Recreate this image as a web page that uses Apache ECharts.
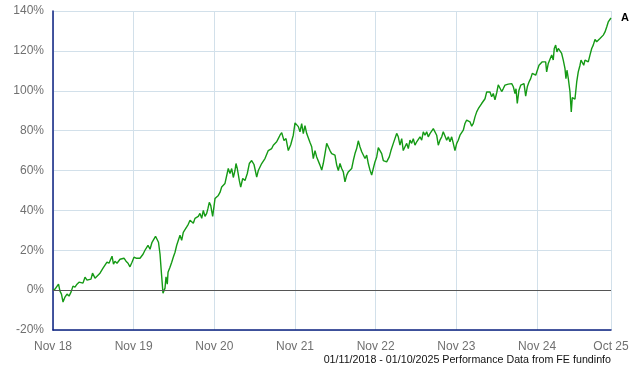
<!DOCTYPE html>
<html>
<head>
<meta charset="utf-8">
<script src="https://cdn.jsdelivr.net/npm/echarts@6/dist/echarts.min.js"></script>
<style>
html,body{margin:0;padding:0;background:#fff;}
#chart{width:640px;height:370px;}
</style>
</head>
<body>
<div id="chart"></div>
<script>
// Months since 1 Nov 2018
var months = [
0,0.30,0.59,0.82,1.04,1.26,1.49,1.78,2.08,2.38,
2.68,2.97,3.27,3.57,3.87,4.16,4.46,4.76,5.06,5.35,
5.65,5.88,6.25,6.54,6.99,7.44,7.73,8.03,8.33,8.55,
8.78,9.00,9.22,9.52,9.97,10.26,10.56,10.86,11.16,11.45,
11.75,12.05,12.35,12.64,12.94,13.39,13.68,14.13,14.43,14.73,
15.02,15.25,15.47,15.69,15.92,16.14,16.36,16.66,16.81,17.00,
17.11,17.40,17.66,17.89,18.15,18.40,18.64,18.89,19.14,19.38,
19.63,19.89,20.12,20.38,20.63,20.87,21.12,21.37,21.61,21.86,
22.12,22.36,22.61,22.86,23.05,23.25,23.46,23.75,23.95,24.10,
24.35,24.59,24.84,25.09,25.33,25.58,25.84,26.07,26.33,26.58,
26.82,27.07,27.22,27.41,27.71,27.92,28.22,28.56,28.90,29.20,
29.55,29.90,30.30,30.54,30.79,31.04,31.28,31.53,31.79,32.02,
32.28,32.53,32.77,33.27,33.51,33.76,34.02,34.36,34.66,35.00,
35.36,35.74,36.00,36.25,36.49,36.74,36.99,37.23,37.48,37.74,
37.97,38.23,38.48,38.72,38.97,39.22,39.46,39.71,39.97,40.20,
40.46,40.71,40.95,41.20,41.45,41.69,41.94,42.20,42.44,42.69,
42.94,43.18,43.43,43.69,43.92,44.18,44.43,44.67,44.92,45.17,
45.41,45.66,45.92,46.15,46.41,46.66,46.90,47.15,47.40,47.64,
47.89,48.15,48.39,48.64,48.89,49.13,49.38,49.63,50.02,50.27,
50.62,51.12,51.36,51.61,51.87,52.10,52.36,52.61,52.85,53.10,
53.35,53.59,53.84,54.10,54.34,54.59,54.84,55.08,55.33,55.58,
55.82,56.07,56.33,56.57,56.82,57.07,57.31,57.56,57.82,58.05,
58.31,58.56,58.80,59.05,59.30,59.54,59.79,60.05,60.28,60.54,
60.79,61.03,61.28,61.53,61.77,62.02,62.28,62.52,62.77,63.02,
63.26,63.51,63.76,64.00,64.26,64.51,64.75,65.00,65.25,65.49,
65.74,66.00,66.23,66.49,66.74,66.98,67.23,67.48,67.72,67.97,
68.23,68.47,68.72,68.87,69.06,69.31,69.57,69.80,70.06,70.31,
70.55,70.80,71.05,71.29,71.54,71.80,72.04,72.29,72.54,72.78,
73.03,73.28,73.43,73.67,73.92,74.18,74.41,74.56,74.77,74.96,
75.16,75.41,75.66,75.90,76.15,76.30,76.45,76.65,76.90,77.09,
77.24,77.39,77.64,77.90,78.13,78.39,78.54,78.73,78.94,79.13,
79.38,79.62,79.87,80.13,80.36,80.62,80.87,81.11,81.36,81.61,
81.85,82.11,82.36,82.59,83
];
// Cumulative performance, %
var returns = [
0,0.5,-0.5,3,-0.5,-2,-6,-3.5,-2,-3,
-1,2,1.5,3,4,3,3.5,6.5,5,6,
5.5,8.5,6,6.5,8.5,11,12,14,13.5,14.5,
17,13,14.5,13.5,15.5,15,16,14.5,13.5,11.7,
14,16.5,16,17,16,18,20,22.5,20.5,24,
25,27,27.5,24,18,8,-1.5,1,6.7,3,
9,11.5,14,16.5,19,22.5,23,27.5,25,29,
30,31.7,33,35,36,33.5,36,35.5,37,38.5,
36,40,37,38.5,41,44,42.5,37,42,46,
46.5,47.5,49,51.7,52,53.5,54,61,58.5,61,
56.5,60,63.5,61,55,51.7,56,55,58.5,63.5,
65,63,56.7,60,61,63.5,64,66,67,70,
69.4,71,72.7,74.4,76,77.7,79,75,76,70,
72.9,77.7,83.9,83.5,82,79.4,83.5,78.5,82.5,78.5,
77.7,74,71.9,66,70,66.8,66,62.7,60.2,63.5,
68.5,73.6,74.4,70,68.5,69.4,67.7,62.7,60,63.5,
61,59.3,54.3,57.7,59.3,58.5,61,65,68.5,71,
74.9,71.9,69.4,69.4,66,67.7,63.5,60.2,57.7,61,
64.3,66.8,71.5,70,68.5,65,65.5,64.3,66.8,70,
73.6,78.6,76.9,72.7,76,70,71.9,73.6,71,75.2,
73.6,76,72.7,74.4,75.2,76.9,75.2,79.4,77.7,79.4,
76.9,78.5,77.7,81,81.5,77.7,72.7,75.2,76.9,79.4,
78.6,75.2,76.9,74.4,76.9,73.6,70,73.6,75.2,77.7,
78.5,80.2,83.6,85.3,86,84.4,82.2,83.6,86.9,89.4,
91,91.9,93.6,94.4,96,99.4,98.6,99.4,97,98.6,
95.5,99,103,102.8,99.6,101.1,102.8,102,103.3,102.8,
103.6,102,98.6,101,93.6,100.3,102.8,102,103.6,97.3,
102,104.4,106.1,108.7,109.5,107.8,108.7,112.8,113.7,114.5,
113.7,114.5,109.5,113.7,114.5,117.9,115.4,121.2,122.9,119.5,
121.2,120.4,118.7,115.4,111.2,106.1,110.3,106.1,99.5,89.4,
96.6,97.5,95.8,104.4,109.5,112.8,115.4,114.5,112.8,115.4,
116.2,114.5,117.9,121.2,122.9,125.7,124.6,125.4,126.2,127,
127.9,129.5,132,134.5,136.5
];
var xTickValues = [0, 12, 24, 36, 48, 60, 72, 83];
var xTickLabels = ['Nov 18', 'Nov 19', 'Nov 20', 'Nov 21', 'Nov 22', 'Nov 23', 'Nov 24', 'Oct 25'];
var seriesName = 'A';
var footerText = '01/11/2018 - 01/10/2025 Performance Data from FE fundinfo';

var FONT = '"Liberation Sans", Arial, sans-serif';
var data = months.map(function (m, i) { return [m, returns[i]]; });

var chart = echarts.init(document.getElementById('chart'), null, {renderer: 'canvas'});
chart.setOption({
  animation: false,
  backgroundColor: '#ffffff',
  grid: {left: 53, right: 29, top: 11, bottom: 40, containLabel: false},
  xAxis: {
    type: 'value', min: 0, max: 83, interval: 12,
    axisLine: {show: true, onZero: false, lineStyle: {color: '#0b2080', width: 1.5}},
    axisTick: {show: false},
    splitLine: {show: true, lineStyle: {color: '#d2e0ea', width: 1}},
    axisLabel: {
      show: true, margin: 11, color: '#707070', fontSize: 12, fontFamily: FONT,
      showMinLabel: true, showMaxLabel: true,
      formatter: function (v) {
        var k = xTickValues.indexOf(Math.round(v));
        return k >= 0 ? xTickLabels[k] : '';
      }
    }
  },
  yAxis: {
    type: 'value', min: -20, max: 140, interval: 20,
    axisLine: {show: true, lineStyle: {color: '#0b2080', width: 1.5}},
    axisTick: {show: false},
    splitLine: {show: true, lineStyle: {color: '#d2e0ea', width: 1}},
    axisLabel: {margin: 9, color: '#707070', fontSize: 12, fontFamily: FONT,
      formatter: function (v) { return v + '%'; }}
  },
  series: [{
    name: seriesName,
    type: 'line',
    data: data,
    showSymbol: false,
    symbol: 'none',
    lineStyle: {color: '#159a15', width: 1.4},
    endLabel: {show: true, formatter: seriesName, distance: 10, color: '#000',
      fontWeight: 'bold', fontSize: 11, fontFamily: FONT},
    markLine: {
      silent: true, symbol: 'none', animation: false,
      label: {show: false},
      lineStyle: {color: '#555555', width: 1, type: 'solid'},
      data: [{yAxis: 0}]
    },
    z: 3
  }],
  graphic: [{
    type: 'text', right: 29, top: 355,
    style: {text: footerText, font: '10.7px ' + FONT, fill: '#111'}
  }]
});
</script>
</body>
</html>
